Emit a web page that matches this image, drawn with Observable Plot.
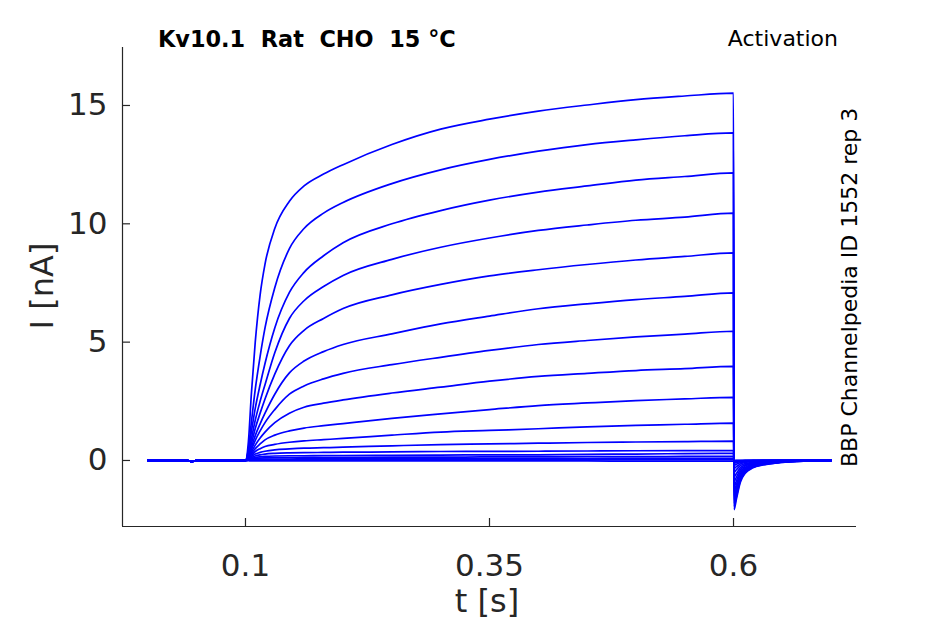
<!DOCTYPE html>
<html><head><meta charset="utf-8">
<script src="https://cdn.jsdelivr.net/npm/d3@7"></script>
<script src="https://cdn.jsdelivr.net/npm/@observablehq/plot@0.6"></script>
<style>body{margin:0;background:#fff;} svg{display:block}</style>
</head><body><div id="chart"></div>
<script>
const xDomain = [-0.026, 0.726];
const yDomain = [-2.79, 17.45];
const xTicks = [0.1, 0.35, 0.6];
const yTicks = [0, 5, 10, 15];

// holding baseline before the step (s, nA)
const baseTimes = [0, 0.04, 0.045, 0.05];
const baseCurrents = [0, 0, -0.05, 0];

// step (activation) phase
const stepTimes = [0.1, 0.103, 0.106, 0.11, 0.115, 0.12, 0.13, 0.145, 0.16, 0.18, 0.2, 0.25, 0.3, 0.35, 0.4, 0.45, 0.5, 0.55, 0.6];
const stepCurrents = [
  [0, 0.8, 2.8, 5.0, 7.0, 8.3, 9.8, 10.95, 11.6, 12.1, 12.5, 13.35, 14.0, 14.42, 14.76, 15.02, 15.25, 15.4, 15.52],
  [0, 0.5, 1.6, 3.0, 4.4, 5.6, 7.3, 8.95, 9.8, 10.45, 10.9, 11.7, 12.28, 12.72, 13.07, 13.35, 13.55, 13.72, 13.84],
  [0, 0.4, 1.2, 2.2, 3.2, 4.1, 5.6, 7.1, 7.95, 8.65, 9.2, 10.0, 10.56, 11.0, 11.34, 11.6, 11.85, 12.0, 12.15],
  [0, 0.3, 0.9, 1.7, 2.5, 3.2, 4.55, 6.0, 6.75, 7.35, 7.82, 8.5, 9.01, 9.4, 9.72, 9.95, 10.15, 10.28, 10.45],
  [0, 0.25, 0.7, 1.35, 2.0, 2.6, 3.65, 4.85, 5.5, 6.0, 6.42, 7.0, 7.44, 7.8, 8.06, 8.28, 8.47, 8.62, 8.77],
  [0, 0.2, 0.55, 1.05, 1.55, 2.0, 2.8, 3.7, 4.2, 4.6, 4.9, 5.35, 5.77, 6.1, 6.41, 6.62, 6.8, 6.93, 7.08],
  [0, 0.15, 0.45, 0.85, 1.25, 1.6, 2.15, 2.8, 3.15, 3.45, 3.68, 4.05, 4.36, 4.65, 4.9, 5.07, 5.22, 5.34, 5.46],
  [0, 0.12, 0.35, 0.65, 0.95, 1.2, 1.6, 2.0, 2.25, 2.42, 2.56, 2.85, 3.1, 3.35, 3.55, 3.68, 3.8, 3.88, 3.98],
  [0, 0.1, 0.28, 0.5, 0.7, 0.87, 1.07, 1.25, 1.37, 1.47, 1.56, 1.78, 1.97, 2.15, 2.32, 2.43, 2.53, 2.6, 2.67],
  [0, 0.08, 0.22, 0.38, 0.5, 0.59, 0.68, 0.77, 0.83, 0.88, 0.93, 1.07, 1.2, 1.27, 1.34, 1.42, 1.48, 1.53, 1.58],
  [0, 0.06, 0.16, 0.27, 0.34, 0.39, 0.45, 0.49, 0.52, 0.54, 0.56, 0.62, 0.67, 0.7, 0.73, 0.76, 0.78, 0.8, 0.82],
  [0, 0.05, 0.12, 0.19, 0.24, 0.27, 0.3, 0.32, 0.33, 0.34, 0.35, 0.36, 0.38, 0.385, 0.39, 0.4, 0.41, 0.415, 0.42],
  [0, 0.03, 0.08, 0.12, 0.15, 0.17, 0.19, 0.2, 0.2, 0.21, 0.21, 0.22, 0.23, 0.235, 0.24, 0.26, 0.27, 0.29, 0.3],
  [0, 0.02, 0.05, 0.08, 0.1, 0.11, 0.12, 0.12, 0.13, 0.13, 0.13, 0.14, 0.14, 0.15, 0.15, 0.16, 0.16, 0.17, 0.17],
  [0, 0.01, 0.03, 0.04, 0.05, 0.06, 0.06, 0.06, 0.07, 0.07, 0.07, 0.07, 0.08, 0.08, 0.08, 0.08, 0.09, 0.09, 0.09],
  [0, 0.01, 0.01, 0.02, 0.02, 0.02, 0.03, 0.03, 0.03, 0.03, 0.03, 0.03, 0.03, 0.04, 0.04, 0.04, 0.04, 0.04, 0.04],
  [0, -0.01, -0.02, -0.02, -0.02, -0.02, -0.02, -0.02, -0.02, -0.02, -0.02, -0.02, -0.02, -0.02, -0.02, -0.02, -0.03, -0.03, -0.03]
];

// tail phase after return to holding
const tailTimes = [0.6005, 0.603, 0.607, 0.612, 0.62, 0.63, 0.645, 0.665, 0.7];
const tailCurrents = [
  [-2.08, -1.62, -0.92, -0.54, -0.31, -0.19, -0.10, -0.04, 0],
  [-1.95, -1.52, -0.86, -0.51, -0.29, -0.18, -0.10, -0.04, 0],
  [-1.80, -1.40, -0.79, -0.47, -0.27, -0.16, -0.09, -0.04, 0],
  [-1.65, -1.29, -0.73, -0.43, -0.25, -0.15, -0.08, -0.03, 0],
  [-1.48, -1.15, -0.65, -0.38, -0.22, -0.13, -0.07, -0.03, 0],
  [-1.30, -1.01, -0.57, -0.34, -0.20, -0.12, -0.07, -0.03, 0],
  [-1.10, -0.86, -0.48, -0.29, -0.17, -0.10, -0.06, -0.02, 0],
  [-0.90, -0.70, -0.40, -0.23, -0.14, -0.08, -0.05, -0.02, 0],
  [-0.70, -0.55, -0.31, -0.18, -0.11, -0.06, -0.04, -0.01, 0],
  [-0.50, -0.39, -0.22, -0.13, -0.08, -0.05, -0.03, -0.01, 0],
  [-0.33, -0.26, -0.15, -0.09, -0.05, -0.03, -0.02, -0.01, 0],
  [-0.20, -0.16, -0.09, -0.05, -0.03, -0.02, -0.01, 0, 0],
  [-0.12, -0.09, -0.05, -0.03, -0.02, -0.01, 0, 0, 0],
  [-0.07, -0.05, -0.03, -0.02, -0.01, 0, 0, 0, 0],
  [-0.04, -0.03, -0.02, -0.01, 0, 0, 0, 0, 0],
  [-0.02, -0.01, -0.01, 0, 0, 0, 0, 0, 0],
  [0, 0, 0, 0, 0, 0, 0, 0, 0]
];

const titleText = "Kv10.1  Rat  CHO  15 °C";
const protocolText = "Activation";
const sourceText = "BBP Channelpedia ID 1552 rep 3";
const xLabel = "t [s]";
const yLabel = "I [nA]";

const rows = [];
stepCurrents.forEach((sweep, k) => {
  baseTimes.forEach((t, j) => rows.push({t, i: baseCurrents[j], sweep: k}));
  stepTimes.forEach((t, j) => rows.push({t, i: sweep[j], sweep: k}));
  tailTimes.forEach((t, j) => rows.push({t, i: tailCurrents[k][j], sweep: k}));
});

const W = 945, H = 624, ML = 122, MR = 89, MT = 47, MB = 98;
const innerW = W - ML - MR, innerH = H - MT - MB;
const axisColor = "#262626";

const chart = Plot.plot({
  width: W, height: H,
  marginLeft: ML, marginRight: MR, marginTop: MT, marginBottom: MB,
  style: {fontFamily: "DejaVu Sans", background: "white", color: axisColor, overflow: "visible"},
  x: {domain: xDomain},
  y: {domain: yDomain},
  marks: [
    Plot.line(rows, {x: "t", y: "i", z: "sweep", stroke: "#0000ff", strokeWidth: 1.7, curve: "monotone-x"}),
    Plot.ruleX([xDomain[0]], {stroke: axisColor, strokeWidth: 1.2}),
    Plot.ruleY([yDomain[0]], {stroke: axisColor, strokeWidth: 1.2}),
    Plot.ruleX(xTicks, {stroke: axisColor, strokeWidth: 1.2, insetTop: innerH - 8}),
    Plot.ruleY(yTicks, {stroke: axisColor, strokeWidth: 1.2, insetRight: innerW - 8}),
    Plot.axisX({ticks: xTicks, tickSize: 0, tickPadding: 27, fontSize: 31, label: null, tickFormat: d => String(d)}),
    Plot.axisY({ticks: yTicks, tickSize: 0, tickPadding: 15, fontSize: 31, label: null, tickFormat: d => String(d)})
  ]
});

const svg = d3.select(chart);
svg.append("text").attr("x", 158).attr("y", 47).attr("text-anchor", "start")
  .attr("font-family", "DejaVu Sans").attr("font-size", 22.4).attr("font-weight", "bold")
  .attr("fill", "#000").style("white-space", "pre").text(titleText);
svg.append("text").attr("x", 838).attr("y", 46).attr("text-anchor", "end")
  .attr("font-family", "DejaVu Sans").attr("font-size", 22)
  .attr("fill", "#000").text(protocolText);
svg.append("text").attr("transform", "translate(857,467) rotate(-90)").attr("text-anchor", "start")
  .attr("font-family", "DejaVu Sans").attr("font-size", 22)
  .attr("fill", "#000").text(sourceText);
svg.append("text").attr("transform", "translate(53,286) rotate(-90)").attr("text-anchor", "middle")
  .attr("font-family", "DejaVu Sans").attr("font-size", 32)
  .attr("fill", axisColor).text(yLabel);
svg.append("text").attr("x", 487).attr("y", 612).attr("text-anchor", "middle")
  .attr("font-family", "DejaVu Sans").attr("font-size", 32)
  .attr("fill", axisColor).text(xLabel);

document.getElementById("chart").appendChild(chart);
</script>
</body></html>
